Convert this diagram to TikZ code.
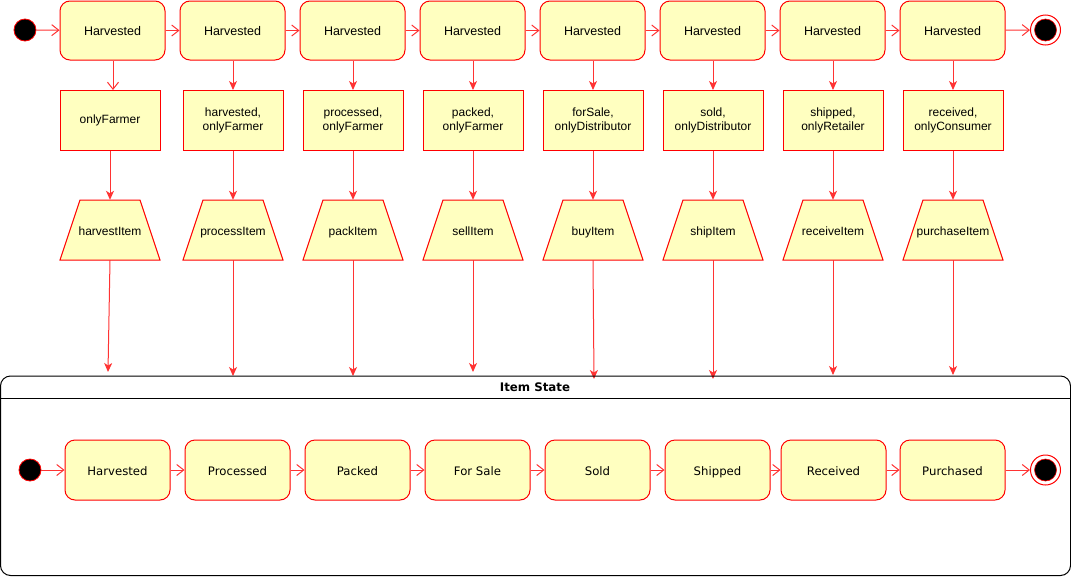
\documentclass[tikz,border=0pt]{standalone}
\usepackage{fontspec}
\setmainfont{Liberation Sans}
\newfontfamily\statefont{DejaVu Sans}
\usetikzlibrary{arrows.meta}

\definecolor{statefill}{HTML}{FFFFC0}
\definecolor{edgered}{HTML}{FF0000}
\definecolor{linkred}{HTML}{FF3333}

\tikzset{
  x=1pt, y=-1pt,
  box/.style={draw=edgered, fill=statefill, line width=1pt, inner sep=0pt, align=center},
  oneline/.style={text height=10pt, text depth=0pt},
  topstate/.style={box, oneline, rounded corners=10pt, minimum width=105pt, minimum height=59pt,
    font=\fontsize{12.5}{15}\selectfont},
  guard/.style={box, rectangle, minimum width=100pt, minimum height=60pt,
    font=\fontsize{12}{14}\selectfont},
  action/.style={rectangle, oneline, inner sep=0pt, minimum width=100pt, minimum height=60pt,
    font=\fontsize{12}{14}\selectfont},
  actionshape/.style={draw=edgered, fill=statefill, line width=1pt, line join=miter},
  itemstate/.style={box, oneline, rounded corners=10pt, minimum width=105pt, minimum height=60pt,
    font=\statefont\fontsize{11.7}{14}\selectfont},
  startdot/.style={circle, draw=edgered, fill=black, line width=0.8pt, minimum size=22pt, inner sep=0pt},
  endring/.style={circle, draw=edgered, fill=white, line width=1pt, minimum size=30pt, inner sep=0pt},
  enddot/.style={circle, draw=edgered, fill=black, line width=0.6pt, minimum size=22pt, inner sep=0pt},
  openlink/.style={draw=linkred, line width=1pt, -{Straight Barb[length=7pt,width=11pt]}},
  filledlink/.style={draw=linkred, line width=1pt, -{Stealth[length=9pt,width=8pt,inset=2.5pt]}},
}

\begin{document}
\begin{tikzpicture}
  \useasboundingbox (0,0) rectangle (1071,576);

  % upper row: item states guarded by role checks
  \node[startdot] (ts) at (25,30) {};
  \foreach \i in {1,...,8}
    \node[topstate] (t\i) at ({112.5+120*(\i-1)},30.5) {Harvested};
  \node[endring] (te) at (1045.5,30) {};
  \node[enddot] at (te) {};

  \draw[openlink] (ts) -- (t1);
  \foreach \i [evaluate=\i as \j using int(\i+1)] in {1,...,7}
    \draw[openlink] (t\i) -- (t\j);
  \draw[openlink] (t8) -- (te);

  % guard conditions and contract functions (trapezoids)
  \foreach \i/\x/\g/\a in {
      1/110/{onlyFarmer}/harvestItem,
      2/233/{harvested,\\onlyFarmer}/processItem,
      3/353/{processed,\\onlyFarmer}/packItem,
      4/473/{packed,\\onlyFarmer}/sellItem,
      5/593/{forSale,\\onlyDistributor}/buyItem,
      6/713/{sold,\\onlyDistributor}/shipItem,
      7/833/{shipped,\\onlyRetailer}/receiveItem,
      8/953/{received,\\onlyConsumer}/purchaseItem} {
    \node[guard] (g\i) at (\x,120.5) {\g};
    \path[actionshape] (\x-50,260) -- (\x-30,200) -- (\x+30,200) -- (\x+50,260) -- cycle;
    \node[action] (a\i) at (\x,230) {\a};
  }

  \draw[openlink] (t1.south -| 113,0) -- (113,90);
  \foreach \i in {2,...,8}
    \draw[filledlink] (t\i.south -| g\i) -- (g\i.north);
  \foreach \i in {1,...,8}
    \draw[filledlink] (g\i) -- (a\i.north);

  % links from the functions down to the state machine
  \coordinate (e1) at (108,372);
  \coordinate (e2) at (233,376);
  \coordinate (e3) at (353,376);
  \coordinate (e4) at (473,372);
  \coordinate (e5) at (594,379);
  \coordinate (e6) at (713,379);
  \coordinate (e7) at (833,375);
  \coordinate (e8) at (953,375);
  \foreach \i in {1,...,8}
    \draw[filledlink] (a\i.south) -- (e\i);

  % Item State container
  \draw[line width=1pt, rounded corners=10pt] (0.5,376) rectangle (1070.5,575.5);
  \draw[line width=1pt] (0.5,398) -- (1070.5,398);
  \node[font=\statefont\bfseries\fontsize{11.8}{14}\selectfont] (title) at (535,387.5) {Item State};

  \node[startdot] (bs) at (30,470) {};
  \foreach \i/\x/\s in {1/117.5/Harvested, 2/237.5/Processed, 3/357.5/Packed,
      4/477.5/For Sale, 5/597.5/Sold, 6/717.5/Shipped, 7/833.5/Received, 8/952.5/Purchased}
    \node[itemstate] (b\i) at (\x,470) {\s};
  \node[endring] (be) at (1045.5,470) {};
  \node[enddot] at (be) {};

  \draw[openlink] (bs) -- (b1);
  \foreach \i [evaluate=\i as \j using int(\i+1)] in {1,...,7}
    \draw[openlink] (b\i) -- (b\j);
  \draw[openlink] (b8) -- (be);
\end{tikzpicture}
\end{document}
